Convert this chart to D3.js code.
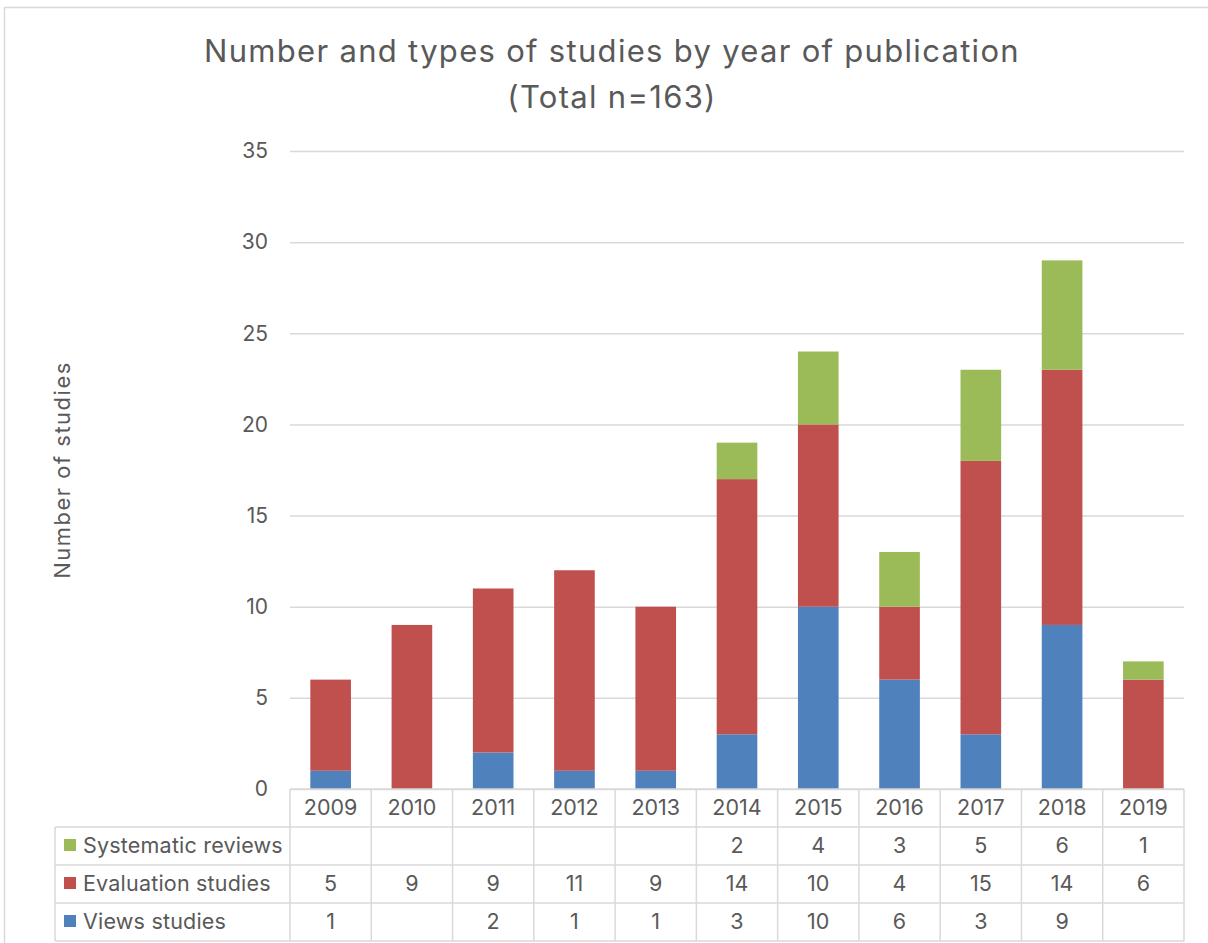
<!DOCTYPE html>
<html>
<head>
<meta charset="utf-8">
<script src="https://cdn.jsdelivr.net/npm/d3@7"></script>
<style>
  body { margin: 0; background: #fff; }
  svg { display: block; font-family: Inter, "Open Sans", sans-serif; }
</style>
</head>
<body>
<div id="chart"></div>
<script>
const years = ['2009', '2010', '2011', '2012', '2013', '2014', '2015', '2016', '2017', '2018', '2019'];
// null = blank cell in the data table
const views = [1, null, 2, 1, 1, 3, 10, 6, 3, 9, null];
const evaluation = [5, 9, 9, 11, 9, 14, 10, 4, 15, 14, 6];
const systematic = [null, null, null, null, null, 2, 4, 3, 5, 6, 1];
const yTicks = [0, 5, 10, 15, 20, 25, 30, 35];

const series = [
  {name: 'Views studies', values: views, color: '#4F81BD'},
  {name: 'Evaluation studies', values: evaluation, color: '#C0504D'},
  {name: 'Systematic reviews', values: systematic, color: '#9BBB59'}
];

const width = 1208;
const height = 943;
const margin = {left: 290, right: 24, top: 151, bottom: 154};
const textColor = '#595959';
const gridColor = '#d9d9d9';
const tableFont = 21.5;

const svg = d3.select('#chart').append('svg')
  .attr('width', width)
  .attr('height', height);

// outer chart frame
svg.append('rect')
  .attr('x', 4.5).attr('y', 7.5)
  .attr('width', width + 10).attr('height', height + 10)
  .attr('fill', 'none')
  .attr('stroke', gridColor)
  .attr('stroke-width', 1.5);

const x = d3.scaleBand()
  .domain(years)
  .range([margin.left, width - margin.right])
  .paddingInner(0.5)
  .paddingOuter(0.25);

const xBand = d3.scaleBand()
  .domain(years)
  .range([margin.left, width - margin.right]);

const y = d3.scaleLinear()
  .domain([0, 35])
  .range([height - margin.bottom, margin.top]);

// title
svg.append('text')
  .attr('x', 612).attr('y', 62)
  .attr('text-anchor', 'middle')
  .attr('fill', textColor)
  .attr('font-size', 31)
  .attr('letter-spacing', 1.3)
  .text('Number and types of studies by year of publication');
svg.append('text')
  .attr('x', 612).attr('y', 108)
  .attr('text-anchor', 'middle')
  .attr('fill', textColor)
  .attr('font-size', 31)
  .attr('letter-spacing', 1.3)
  .text('(Total n=163)');

// gridlines and y labels
const yAxis = d3.axisLeft(y)
  .tickValues(yTicks)
  .tickSize(-(width - margin.left - margin.right))
  .tickPadding(22);
const gy = svg.append('g')
  .attr('transform', `translate(${margin.left},0)`)
  .call(yAxis);
gy.select('.domain').remove();
gy.selectAll('.tick line')
  .attr('stroke', gridColor)
  .attr('stroke-width', 1.5);
gy.selectAll('.tick text')
  .attr('fill', textColor)
  .attr('font-size', 21)
  .attr('font-family', 'Inter, sans-serif');

// y axis title
svg.append('text')
  .attr('transform', `translate(70, ${y(17.5)}) rotate(-90)`)
  .attr('text-anchor', 'middle')
  .attr('fill', textColor)
  .attr('font-size', 22)
  .attr('letter-spacing', 1.5)
  .text('Number of studies');

// stacked bars
const stackData = years.map((yr, i) => {
  const row = {year: yr};
  series.forEach(s => { row[s.name] = s.values[i] || 0; });
  return row;
});
const stack = d3.stack().keys(series.map(s => s.name));
const layers = stack(stackData);

svg.append('g')
  .selectAll('g')
  .data(layers)
  .join('g')
  .attr('fill', (d, i) => series[i].color)
  .selectAll('rect')
  .data(d => d)
  .join('rect')
  .attr('x', d => x(d.data.year))
  .attr('width', x.bandwidth())
  .attr('y', d => y(d[1]))
  .attr('height', d => y(d[0]) - y(d[1]));

// data table
const tableLeft = 55;
const rowH = 38;
const headerTop = y(0);
const tableRight = width - margin.right;
const rows = series.slice().reverse();
const table = svg.append('g');

// horizontal lines
const hLines = [0, 1, 2, 3, 4].map(k => headerTop + k * rowH);
table.selectAll('line.h')
  .data(hLines)
  .join('line')
  .attr('class', 'h')
  .attr('x1', (d, k) => k === 0 ? margin.left : tableLeft)
  .attr('x2', tableRight)
  .attr('y1', d => d)
  .attr('y2', d => d)
  .attr('stroke', gridColor)
  .attr('stroke-width', 1.5);

// vertical lines
const vLines = years.map(yr => xBand(yr)).concat([tableRight]);
table.selectAll('line.v')
  .data(vLines)
  .join('line')
  .attr('class', 'v')
  .attr('x1', d => d).attr('x2', d => d)
  .attr('y1', headerTop)
  .attr('y2', headerTop + 4 * rowH)
  .attr('stroke', gridColor)
  .attr('stroke-width', 1.5);
table.append('line')
  .attr('x1', tableLeft).attr('x2', tableLeft)
  .attr('y1', headerTop + rowH).attr('y2', headerTop + 4 * rowH)
  .attr('stroke', gridColor)
  .attr('stroke-width', 1.5);

// header (years)
table.selectAll('text.yr')
  .data(years)
  .join('text')
  .attr('class', 'yr')
  .attr('x', d => xBand(d) + xBand.bandwidth() / 2)
  .attr('y', headerTop + rowH / 2 + 7)
  .attr('text-anchor', 'middle')
  .attr('fill', textColor)
  .attr('font-size', tableFont)
  .text(d => d);

// rows
rows.forEach((s, r) => {
  const rowY = headerTop + (r + 1) * rowH;
  table.append('rect')
    .attr('x', 64).attr('y', rowY + rowH / 2 - 7)
    .attr('width', 12).attr('height', 12)
    .attr('fill', s.color);
  table.append('text')
    .attr('x', 83).attr('y', rowY + rowH / 2 + 7)
    .attr('fill', textColor)
    .attr('font-size', tableFont)
    .attr('letter-spacing', 0.2)
    .text(s.name);
  table.selectAll(null)
    .data(s.values.map((v, i) => ({v, yr: years[i]})).filter(d => d.v != null))
    .join('text')
    .attr('x', d => xBand(d.yr) + xBand.bandwidth() / 2)
    .attr('y', rowY + rowH / 2 + 7)
    .attr('text-anchor', 'middle')
    .attr('fill', textColor)
    .attr('font-size', tableFont)
    .text(d => d.v);
});
</script>
</body>
</html>
